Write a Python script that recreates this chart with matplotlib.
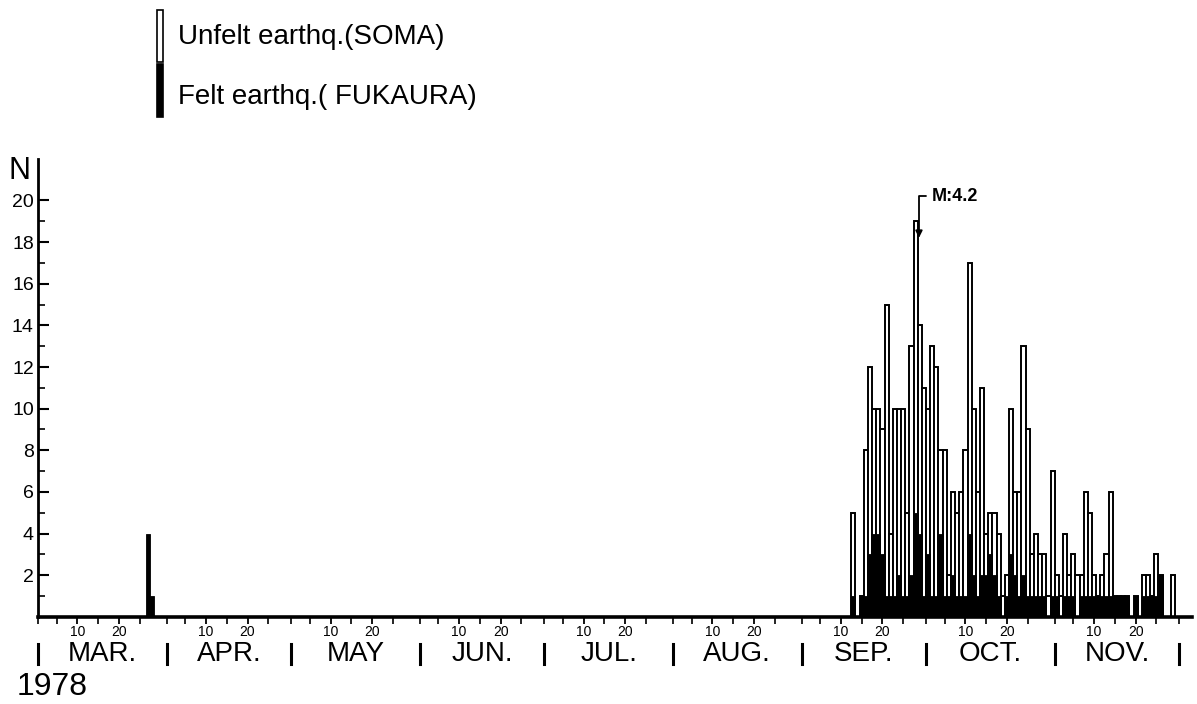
import numpy as np
import matplotlib
matplotlib.use("Agg")
import matplotlib.pyplot as plt
import matplotlib.transforms as mtransforms
from matplotlib.patches import Rectangle

plt.rcParams["font.family"] = ["Liberation Sans", "DejaVu Sans"]

# months shown on the axis (1978)
months = ["MAR.", "APR.", "MAY", "JUN.", "JUL.", "AUG.", "SEP.", "OCT.", "NOV."]
month_days = [31, 30, 31, 30, 31, 31, 30, 31, 30]

# felt earthquakes in March (day of month, count)
mar_felt_days = [27, 28]
mar_felt_counts = [4, 1]

# daily counts, day 1 .. end of month
sep_unfelt = [0, 0, 0, 0, 0, 0, 0, 0, 0, 0, 0, 0, 5, 0, 1, 8, 12, 10, 10, 9,
              15, 4, 10, 10, 10, 5, 13, 19, 14, 11]
sep_felt = [0, 0, 0, 0, 0, 0, 0, 0, 0, 0, 0, 0, 1, 0, 1, 1, 3, 4, 4, 3,
            1, 1, 1, 2, 1, 1, 2, 5, 4, 1]
oct_unfelt = [10, 13, 12, 8, 8, 2, 6, 5, 6, 8, 17, 10, 6, 11, 4, 5, 5, 4, 1, 2,
              10, 6, 6, 13, 9, 3, 4, 3, 3, 1, 7]
oct_felt = [3, 1, 1, 4, 1, 1, 2, 1, 1, 1, 4, 2, 1, 2, 2, 3, 2, 1, 0, 1,
            3, 2, 1, 2, 1, 1, 1, 1, 1, 0, 1]
nov_unfelt = [2, 1, 4, 2, 3, 2, 2, 6, 5, 2, 1, 2, 3, 6, 1, 1, 1, 1, 0, 1,
              0, 2, 2, 1, 3, 2, 0, 0, 2, 0]
nov_felt = [1, 0, 1, 1, 1, 0, 1, 1, 1, 1, 1, 1, 1, 1, 1, 1, 1, 1, 0, 1,
            0, 1, 1, 1, 1, 2, 0, 0, 0, 0]

month_start = np.concatenate([[0], np.cumsum(month_days)])
n_days = month_start[-1]

unfelt = np.zeros(n_days)
felt = np.zeros(n_days)
for m, uf, f in [(6, sep_unfelt, sep_felt), (7, oct_unfelt, oct_felt), (8, nov_unfelt, nov_felt)]:
    unfelt[month_start[m]:month_start[m] + month_days[m]] = uf
    felt[month_start[m]:month_start[m] + month_days[m]] = f
for d, c in zip(mar_felt_days, mar_felt_counts):
    felt[month_start[0] + d - 1] = c

days = np.arange(n_days)

fig = plt.figure(figsize=(11.97, 7.04), dpi=100)
ax = fig.add_axes([0.0317, 0.1236, 0.9638, 0.651])

mask = unfelt > 0
ax.bar(days[mask], unfelt[mask], width=1, align="edge", color="white",
       edgecolor="black", linewidth=1.4, zorder=2)
mask = felt > 0
ax.bar(days[mask], felt[mask], width=1, align="edge", color="black",
       edgecolor="black", linewidth=0.6, zorder=3)

ax.set_xlim(0, 278)
ax.set_ylim(0, 22)

for s in ["top", "right"]:
    ax.spines[s].set_visible(False)
ax.spines["left"].set_linewidth(2)
ax.spines["bottom"].set_linewidth(2.6)

# y axis
ax.set_yticks(np.arange(2, 21, 2))
ax.set_yticks(np.arange(1, 20, 2), minor=True)
ax.tick_params(axis="y", which="major", direction="in", length=8, width=1.5,
               labelsize=14, pad=3)
ax.tick_params(axis="y", which="minor", direction="in", length=5, width=1.2)

# x axis: ticks every 5 days, labels at 10 and 20
major_x = []
minor_x = []
for s in month_start[:-1]:
    major_x += [s + 9.5, s + 19.5]
    minor_x += [s + 4.5, s + 14.5, s + 24.5]
minor_x += list(month_start)
ax.set_xticks(major_x)
ax.set_xticklabels(["10", "20"] * len(months))
ax.set_xticks(minor_x, minor=True)
ax.tick_params(axis="x", which="major", direction="out", length=5, width=1.3,
               labelsize=10, pad=1)
ax.tick_params(axis="x", which="minor", direction="out", length=5, width=1.2)

trans = mtransforms.blended_transform_factory(ax.transData, ax.transAxes)
for s in month_start:
    ax.plot([s, s], [-0.060, -0.102], transform=trans, color="black", lw=2.2,
            clip_on=False)
for i, name in enumerate(months):
    ax.text(month_start[i] + month_days[i] / 2, -0.081, name, transform=trans,
            ha="center", va="center", fontsize=20)

fig.text(0.014, 0.024, "1978", fontsize=23, ha="left", va="center")
fig.text(0.007, 0.757, "N", fontsize=22, ha="left", va="center")

ax.annotate("M:4.2", xy=(212.3, 18.2), xytext=(215.4, 20.2), fontsize=13,
            fontweight="bold", ha="left", va="center",
            arrowprops=dict(arrowstyle="-|>", color="black", lw=1.3,
                            connectionstyle="angle,angleA=180,angleB=90,rad=0",
                            shrinkA=2, shrinkB=0, mutation_scale=10))

# legend
fig.add_artist(Rectangle((0.1312, 0.9119), 0.005, 0.0739, transform=fig.transFigure,
                         facecolor="white", edgecolor="black", lw=1.2))
fig.add_artist(Rectangle((0.1312, 0.8338), 0.005, 0.0753, transform=fig.transFigure,
                         facecolor="black", edgecolor="black", lw=1.2))
fig.text(0.1487, 0.9474, "Unfelt earthq.(SOMA)", fontsize=20, ha="left", va="center")
fig.text(0.1487, 0.862, "Felt earthq.( FUKAURA)", fontsize=20, ha="left", va="center")

fig.savefig("out.png", dpi=100)
